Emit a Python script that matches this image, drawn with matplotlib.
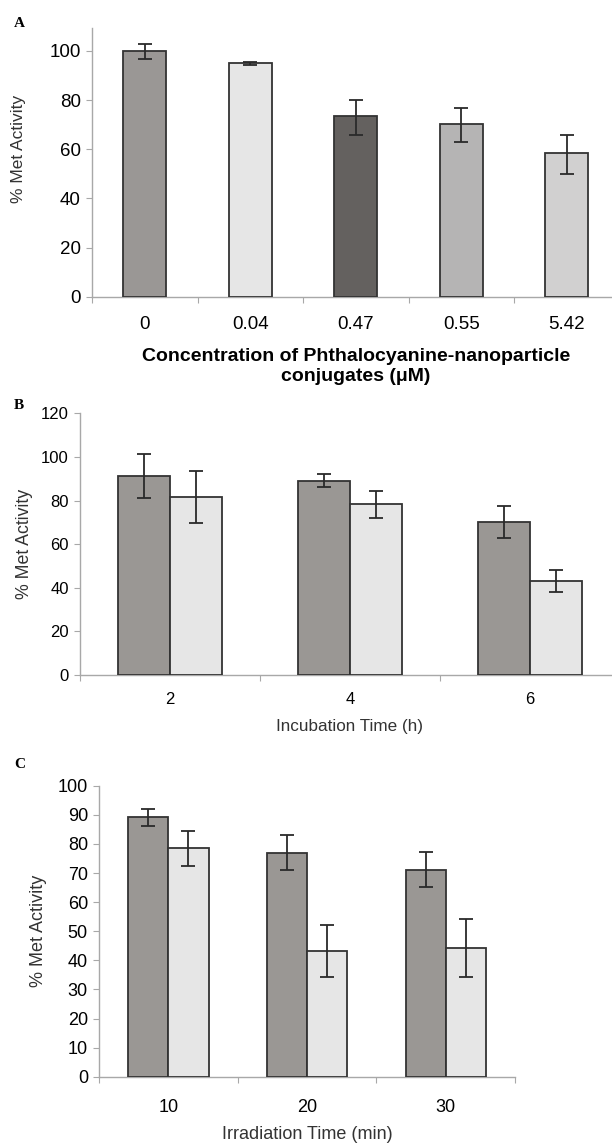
import matplotlib
matplotlib.use("Agg")
import matplotlib.pyplot as plt
import numpy as np

plt.rcParams['font.family'] = ['Liberation Sans', 'DejaVu Sans']

# Panel A: concentration series
conc_labels = ["0", "0.04", "0.47", "0.55", "5.42"]
conc_values = [100.0, 95.0, 73.5, 70.3, 58.3]
conc_err_lo = [3.3, 0.6, 7.6, 7.2, 8.3]
conc_err_hi = [3.0, 0.6, 6.5, 6.6, 7.6]
conc_colors = ["#9a9795", "#e6e6e6", "#64615f", "#b5b4b4", "#d1d0d0"]

# Panel B: incubation time
incub_labels = ["2", "4", "6"]
incub_dark = [91.3, 89.0, 70.2]
incub_dark_err = [10.0, 3.0, 7.2]
incub_light = [81.5, 78.3, 43.1]
incub_light_err = [12.0, 6.3, 5.2]

# Panel C: irradiation time
irrad_labels = ["10", "20", "30"]
irrad_dark = [89.1, 77.0, 71.1]
irrad_dark_err = [3.0, 6.0, 6.0]
irrad_light = [78.5, 43.3, 44.1]
irrad_light_err = [6.0, 9.0, 10.0]

DARK = "#9a9794"
LIGHT = "#e6e6e6"
EDGE = "#333333"
AXIS = "#a8a8a8"

W, H = 612, 1146
fig = plt.figure(figsize=(W / 100, H / 100), dpi=100)


def px_axes(left, right, top, bottom):
    """Axes placed by pixel coordinates of the plot box."""
    return fig.add_axes([left / W, 1 - bottom / H, (right - left) / W, (bottom - top) / H])


def style_axes(ax, n, fs, pad=12):
    for s in ["top", "right"]:
        ax.spines[s].set_visible(False)
    for s in ["left", "bottom"]:
        ax.spines[s].set_color(AXIS)
        ax.spines[s].set_linewidth(1.0)
    ax.set_xlim(0, n)
    # category boundaries as ticks, labels in the middle
    ax.set_xticks(np.arange(n + 1))
    ax.set_xticklabels([])
    ax.set_xticks(np.arange(n) + 0.5, minor=True)
    ax.tick_params(axis="x", which="major", length=4, color=AXIS, direction="out")
    ax.tick_params(axis="x", which="minor", length=0, labelsize=fs, pad=pad)
    ax.tick_params(axis="y", length=4, color=AXIS, direction="out", labelsize=fs, pad=4)


def error_bars(ax, x, y, lo, hi):
    ax.errorbar(x, y, yerr=[lo, hi], fmt="none", ecolor="#2a2a2a",
                elinewidth=1.3, capsize=5, capthick=1.3, zorder=4)


# ---- Panel A ----
axA = px_axes(92, 92 + 5 * 105.5, 28.3, 296.7)
xA = np.arange(len(conc_values)) + 0.5
axA.bar(xA, conc_values, width=0.41, color=conc_colors, edgecolor=EDGE, linewidth=1.3, zorder=3)
error_bars(axA, xA, conc_values, conc_err_lo, conc_err_hi)
style_axes(axA, len(conc_values), 13.5, pad=14)
axA.set_xticklabels(conc_labels, minor=True)
axA.set_ylim(0, 109.2)
axA.set_yticks(np.arange(0, 101, 20))
axA.set_ylabel("% Met Activity", fontsize=12.5, color="#333333")
axA.yaxis.set_label_coords(-0.125, 0.55)
axA.set_xlabel("Concentration of Phthalocyanine-nanoparticle\nconjugates (\u03bcM)",
               fontsize=14, fontweight="bold", labelpad=11, linespacing=1.2)
fig.text(14 / W, 1 - 27 / H, "A", fontsize=11, fontweight="bold", family="Liberation Serif")

# ---- Panel B ----
axB = px_axes(80, 80 + 3 * 180, 413.3, 675)
xB = np.arange(len(incub_labels)) + 0.5
bw = 0.29
axB.bar(xB - bw / 2, incub_dark, width=bw, color=DARK, edgecolor=EDGE, linewidth=1.3, zorder=3)
axB.bar(xB + bw / 2, incub_light, width=bw, color=LIGHT, edgecolor=EDGE, linewidth=1.3, zorder=3)
error_bars(axB, xB - bw / 2, incub_dark, incub_dark_err, incub_dark_err)
error_bars(axB, xB + bw / 2, incub_light, incub_light_err, incub_light_err)
style_axes(axB, len(incub_labels), 12, pad=12)
axB.set_xticklabels(incub_labels, minor=True)
axB.set_ylim(0, 120)
axB.set_yticks(np.arange(0, 121, 20))
axB.set_ylabel("% Met Activity", fontsize=12.8, labelpad=6, color="#333333")
axB.set_xlabel("Incubation Time (h)", fontsize=12.3, labelpad=9, color="#333333")
fig.text(14 / W, 1 - 409 / H, "B", fontsize=11, fontweight="bold", family="Liberation Serif")

# ---- Panel C ----
axC = px_axes(99, 99 + 3 * 138.7, 785.7, 1076.7)
xC = np.arange(len(irrad_labels)) + 0.5
axC.bar(xC - bw / 2, irrad_dark, width=bw, color=DARK, edgecolor=EDGE, linewidth=1.3, zorder=3)
axC.bar(xC + bw / 2, irrad_light, width=bw, color=LIGHT, edgecolor=EDGE, linewidth=1.3, zorder=3)
error_bars(axC, xC - bw / 2, irrad_dark, irrad_dark_err, irrad_dark_err)
error_bars(axC, xC + bw / 2, irrad_light, irrad_light_err, irrad_light_err)
style_axes(axC, len(irrad_labels), 13, pad=16)
axC.set_xticklabels(irrad_labels, minor=True)
axC.set_ylim(0, 100)
axC.set_yticks(np.arange(0, 101, 10))
axC.set_ylabel("% Met Activity", fontsize=13, labelpad=8, color="#333333")
axC.set_xlabel("Irradiation Time (min)", fontsize=13, labelpad=7, color="#333333")
fig.text(14 / W, 1 - 768 / H, "C", fontsize=11, fontweight="bold", family="Liberation Serif")

fig.savefig("out.png", dpi=100)
